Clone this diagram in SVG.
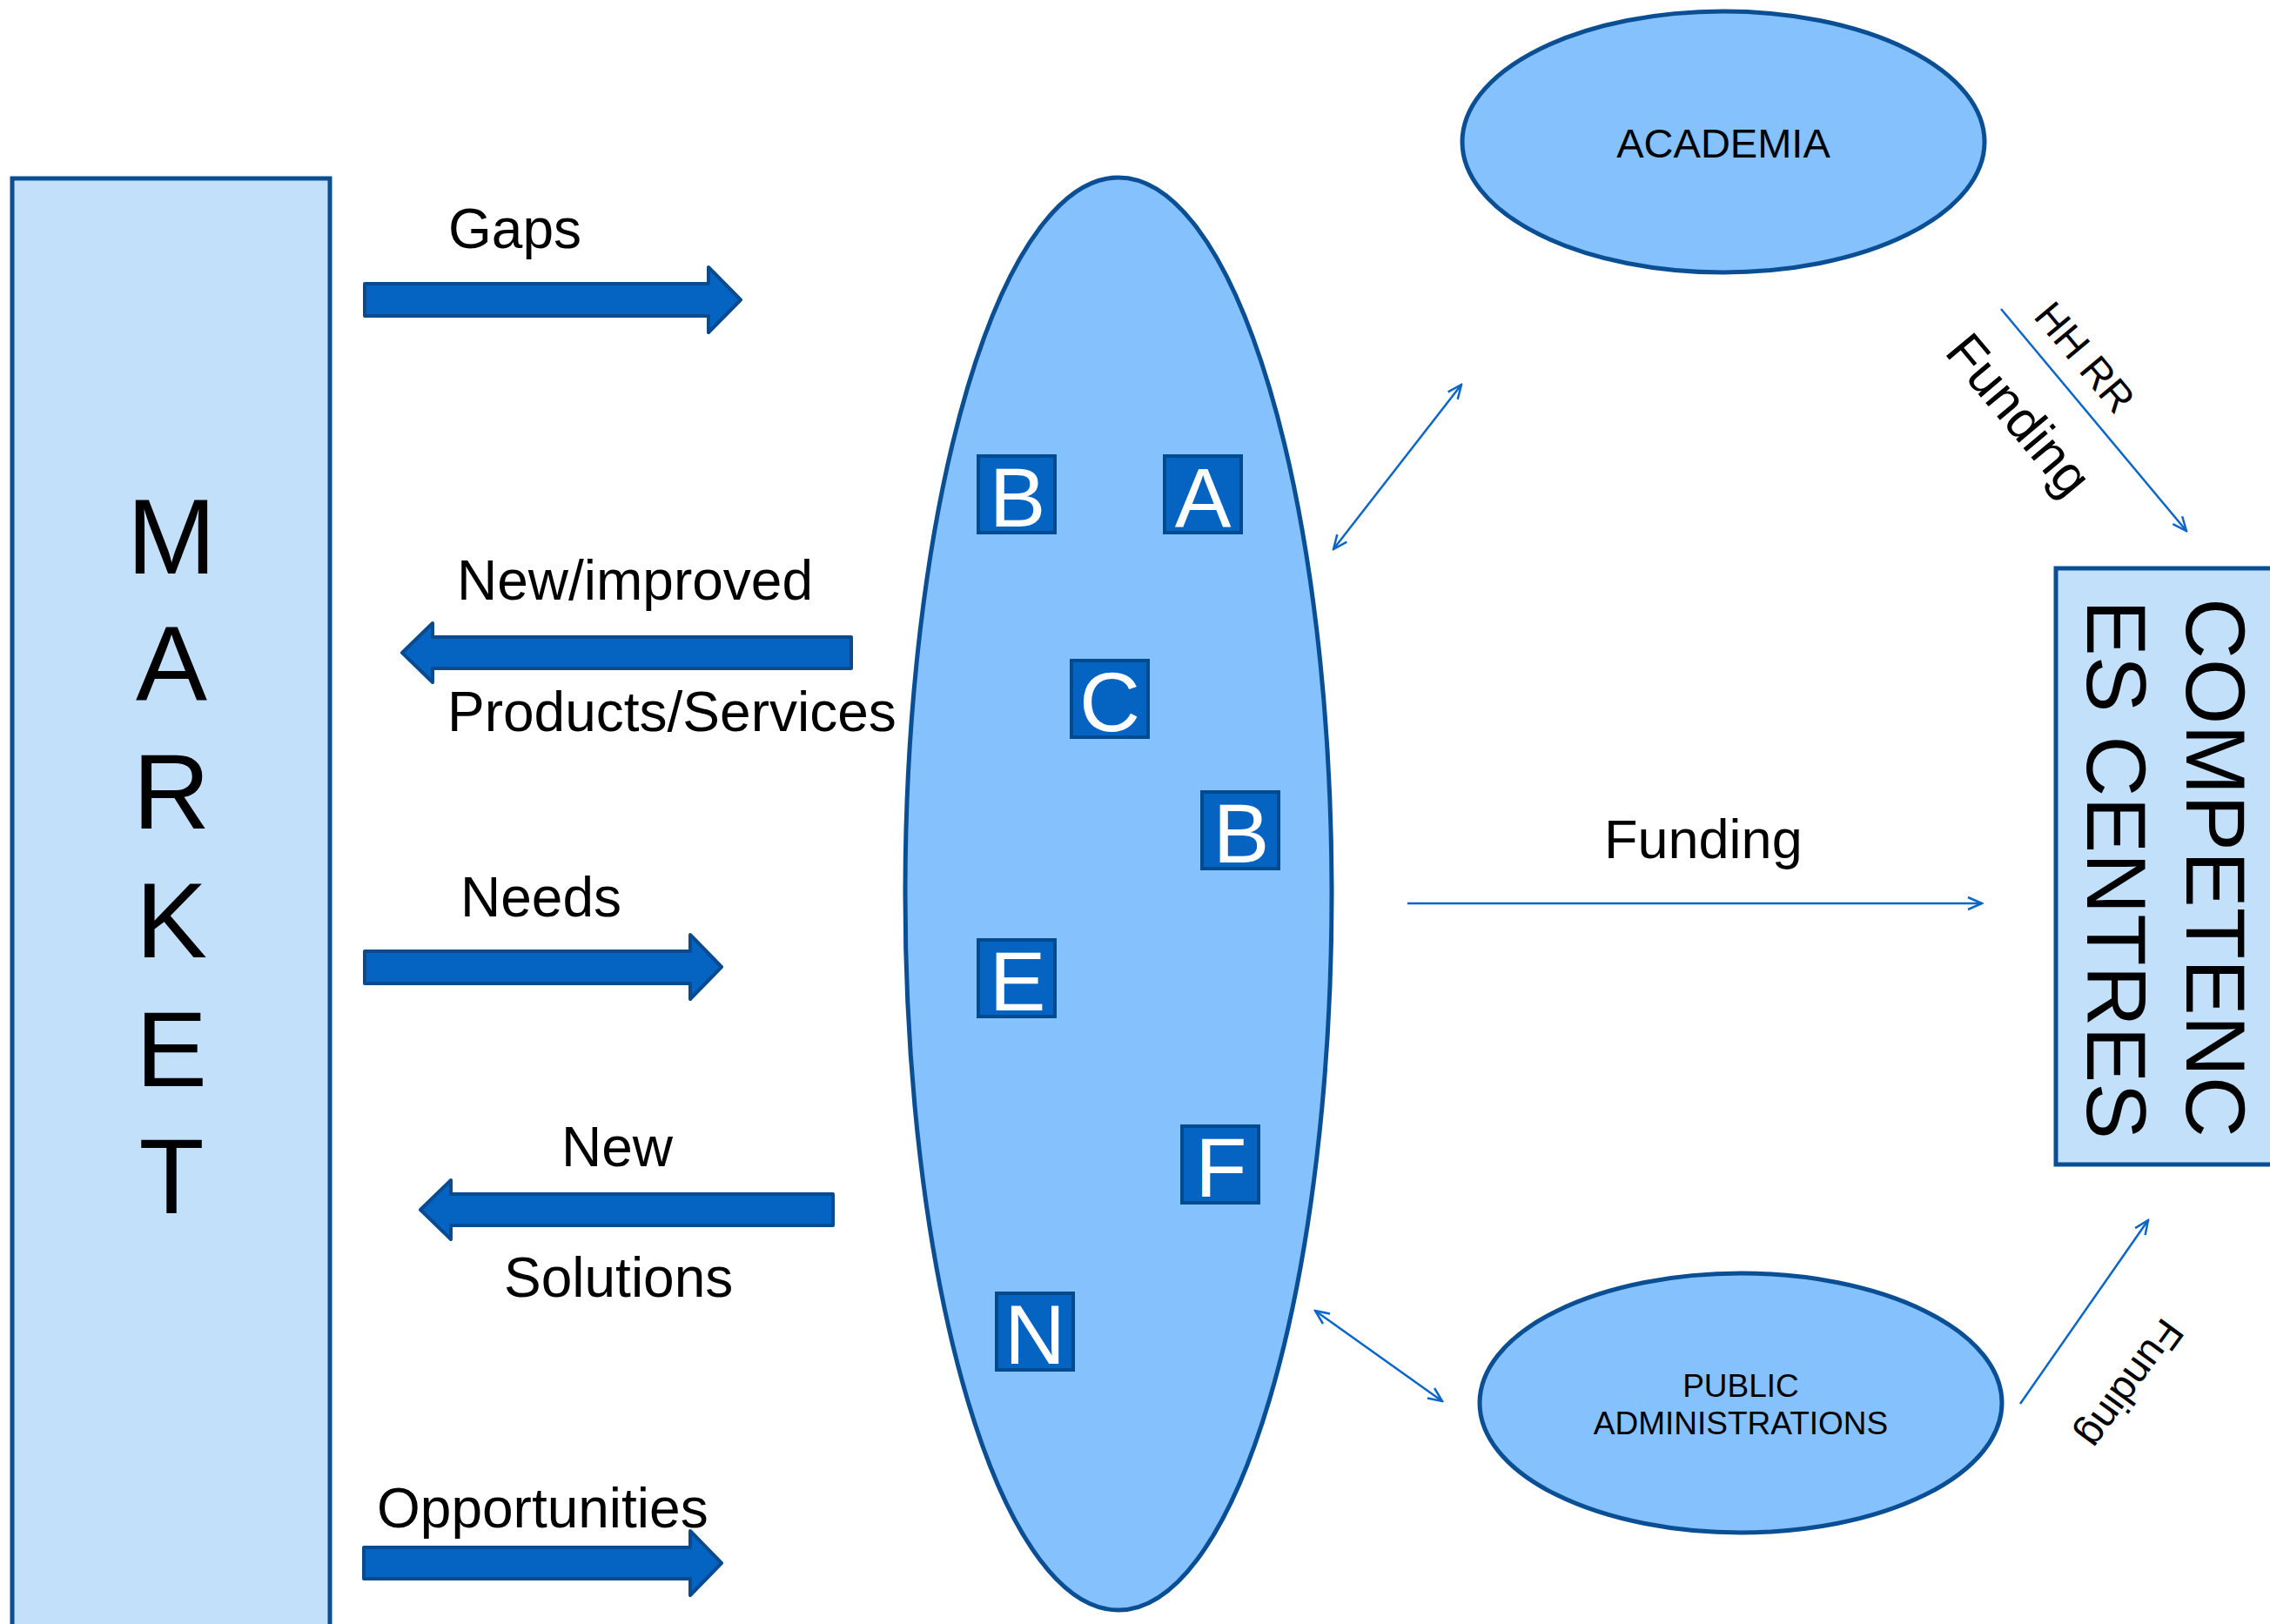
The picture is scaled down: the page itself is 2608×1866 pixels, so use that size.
<svg xmlns="http://www.w3.org/2000/svg" width="2608" height="1866" viewBox="0 0 2608 1866">
<style>
text{font-family:"Liberation Sans",Arial,sans-serif;fill:#000}
.panel{fill:#C3E0FB;stroke:#0A4E94;stroke-width:5}
.oval{fill:#85C1FC;stroke:#0A4E94;stroke-width:5}
.blk{fill:#0563C1;stroke:#0A4B8F;stroke-width:4;stroke-linejoin:round}
.box{fill:#0563C1;stroke:#004A8F;stroke-width:4}
.lt{fill:#fff;font-size:97px;text-anchor:middle}
.lbl{font-size:64px}
.conn{stroke:#0A66C8;stroke-width:2.5;fill:none}
.mk{font-size:123px;text-anchor:middle}
</style>
<defs>
<marker id="ah" viewBox="0 0 20 20" markerWidth="20" markerHeight="20" refX="18" refY="10" orient="auto-start-reverse" markerUnits="userSpaceOnUse">
<path d="M2,3 L18,10 L2,17" fill="none" stroke="#0A66C8" stroke-width="2.5"/>
</marker>
</defs>
<rect width="2608" height="1866" fill="#fff"/>

<g id="market">
<rect class="panel" x="14" y="205" width="365" height="1680"/>
<text class="mk" x="197" y="659">M</text>
<text class="mk" x="197" y="805">A</text>
<text class="mk" x="197" y="952">R</text>
<text class="mk" x="197" y="1100">K</text>
<text class="mk" x="197" y="1248">E</text>
<text class="mk" x="197" y="1394">T</text>
</g>

<g id="flows">
<polygon class="blk" points="419,326 814,326 814,307 851,344.5 814,382 814,363 419,363"/>
<text class="lbl" x="515" y="285">Gaps</text>
<polygon class="blk" points="978,732 497,732 497,716 462,750 497,784 497,768 978,768"/>
<text class="lbl" x="525" y="689">New/improved</text>
<text class="lbl" x="514" y="840">Products/Services</text>
<polygon class="blk" points="419,1093 793,1093 793,1074 829,1111 793,1148 793,1130 419,1130"/>
<text class="lbl" x="529" y="1053">Needs</text>
<polygon class="blk" points="957,1372 518,1372 518,1356 483,1390 518,1424 518,1408 957,1408"/>
<text class="lbl" x="645" y="1340">New</text>
<text class="lbl" x="579" y="1490">Solutions</text>
<polygon class="blk" points="418,1778 793,1778 793,1759 829,1796 793,1833 793,1814 418,1814"/>
<text class="lbl" x="433" y="1755">Opportunities</text>
</g>

<g id="enterprises">
<ellipse class="oval" cx="1285" cy="1027" rx="245" ry="823"/>
<g id="box-b1"><rect class="box" x="1124" y="524" width="88" height="88"/><text class="lt" x="1169" y="605">B</text></g>
<g id="box-a"><rect class="box" x="1338" y="524" width="88" height="88"/><text class="lt" x="1382" y="605">A</text></g>
<g id="box-c"><rect class="box" x="1231" y="759" width="88" height="88"/><text class="lt" x="1275" y="840">C</text></g>
<g id="box-b2"><rect class="box" x="1381" y="910" width="88" height="88"/><text class="lt" x="1426" y="991">B</text></g>
<g id="box-e"><rect class="box" x="1124" y="1080" width="88" height="88"/><text class="lt" x="1169" y="1161">E</text></g>
<g id="box-f"><rect class="box" x="1358" y="1294" width="88" height="88"/><text class="lt" x="1403" y="1375">F</text></g>
<g id="box-n"><rect class="box" x="1145" y="1486" width="88" height="88"/><text class="lt" x="1189" y="1567">N</text></g>
</g>

<g id="academia">
<ellipse class="oval" cx="1980" cy="163" rx="300" ry="150"/>
<text x="1980" y="181" font-size="47" text-anchor="middle">ACADEMIA</text>
</g>

<g id="public-admin">
<ellipse class="oval" cx="2000" cy="1612" rx="300" ry="149"/>
<text x="2000" y="1605" font-size="37" text-anchor="middle">PUBLIC</text>
<text x="2000" y="1648" font-size="37" text-anchor="middle">ADMINISTRATIONS</text>
</g>

<g id="competences">
<rect class="panel" x="2362" y="653" width="270" height="685"/>
<text transform="rotate(90)" x="687" y="-2512" font-size="97">COMPETENC</text>
<text transform="rotate(90)" x="689" y="-2398" font-size="97">ES CENTRES</text>
</g>

<g id="connectors">
<line class="conn" x1="1532" y1="631" x2="1679" y2="442" marker-start="url(#ah)" marker-end="url(#ah)"/>
<line class="conn" x1="2299" y1="355" x2="2512" y2="610" marker-end="url(#ah)"/>
<line class="conn" x1="1617" y1="1038" x2="2277" y2="1038" marker-end="url(#ah)"/>
<line class="conn" x1="1511" y1="1506" x2="1657" y2="1610" marker-start="url(#ah)" marker-end="url(#ah)"/>
<line class="conn" x1="2321" y1="1613" x2="2468" y2="1402" marker-end="url(#ah)"/>
</g>

<g id="connector-labels">
<text x="1843" y="986" font-size="63">Funding</text>
<g transform="translate(2299,355) rotate(50.1)">
<text x="-4" y="83" font-size="61">Funding</text>
<text x="30" y="-22" font-size="47">HH RR</text>
</g>
<text transform="translate(2485,1512) rotate(126)" font-size="47">Funding</text>
</g>
</svg>
